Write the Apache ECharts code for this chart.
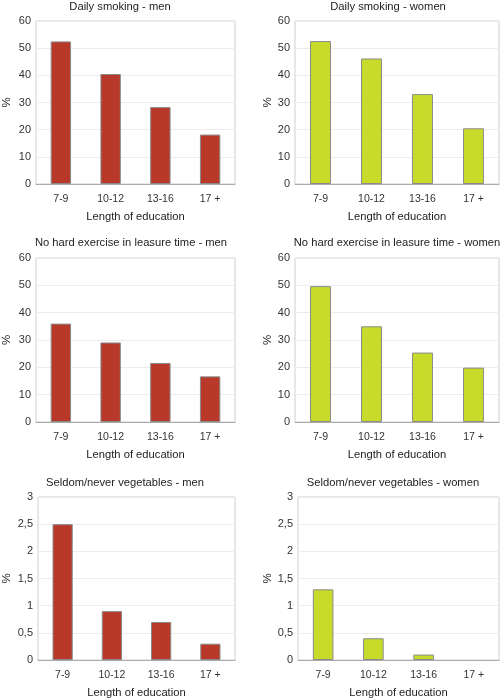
<!DOCTYPE html>
<html>
<head>
<meta charset="utf-8">
<script src="https://cdn.jsdelivr.net/npm/echarts@6/dist/echarts.min.js"></script>
<style>
  html, body { margin: 0; padding: 0; background: #fff; }
  #chart { width: 500px; height: 699px; }
</style>
</head>
<body>
<div id="chart"></div>
<script>
let categories = ['7-9', '10-12', '13-16', '17 +'];

let smokingMen = [52.5, 40.5, 28.3, 18.2];
let smokingWomen = [52.6, 46.2, 33.1, 20.5];
let exerciseMen = [36.0, 29.1, 21.6, 16.7];
let exerciseWomen = [49.7, 35.0, 25.4, 19.9];
let vegMen = [2.5, 0.9, 0.7, 0.3];
let vegWomen = [1.3, 0.4, 0.1, 0];

let titles = [
    'Daily smoking - men', 'Daily smoking - women',
    'No hard exercise in leasure time - men', 'No hard exercise in leasure time - women',
    'Seldom/never vegetables - men', 'Seldom/never vegetables - women'
];
let panelData = [smokingMen, smokingWomen, exerciseMen, exerciseWomen, vegMen, vegWomen];
let yMax = [60, 60, 60, 60, 3, 3];
let yStep = [10, 10, 10, 10, 0.5, 0.5];

const RED = '#b8392a';
const GREEN = '#c9db2a';

// panel layout: [left, top, width, height]
let boxes = [
    [30, 21, 205, 163], [295, 21, 204, 163],
    [30, 258, 205, 164], [295, 258, 204, 164],
    [32, 497, 203, 163], [298, 497, 201, 163]
];
let titleX = [120, 388, 131, 397, 125, 393];
let titleY = [1, 237, 477];

let chart = echarts.init(document.getElementById('chart'));

let option = {
    animation: false,
    textStyle: { fontFamily: 'Liberation Sans, Arial, sans-serif' },
    title: [],
    grid: [],
    xAxis: [],
    yAxis: [],
    series: []
};

for (let i = 0; i < 6; i++) {
    let b = boxes[i];
    option.title.push({
        text: titles[i],
        left: titleX[i],
        top: titleY[Math.floor(i / 2)],
        textAlign: 'center',
        padding: 0,
        textStyle: { fontSize: 11.2, fontWeight: 'normal', color: '#222' }
    });
    option.grid.push({
        left: b[0], top: b[1], width: b[2], height: b[3],
        show: true, borderColor: '#cfcfcf', borderWidth: 1
    });
    option.xAxis.push({
        type: 'category',
        gridIndex: i,
        data: categories,
        name: 'Length of education',
        nameLocation: 'middle',
        nameGap: 27,
        nameTextStyle: { fontSize: 11.2, color: '#222' },
        axisLine: { lineStyle: { color: '#aaa' } },
        axisTick: { show: false },
        axisLabel: { fontSize: 10.5, color: '#333', margin: 10 }
    });
    option.yAxis.push({
        type: 'value',
        gridIndex: i,
        min: 0,
        max: yMax[i],
        interval: yStep[i],
        name: '%',
        nameLocation: 'middle',
        nameGap: i % 2 === 0 ? (i === 4 ? 25 : 23) : (i === 5 ? 20 : 17),
        nameRotate: 90,
        nameTextStyle: { fontSize: 11.5, color: '#222' },
        axisLine: { show: false },
        axisTick: { show: false },
        axisLabel: {
            fontSize: 11, color: '#333', margin: 5,
            formatter: function (v) { return String(v).replace('.', ','); }
        },
        splitLine: { lineStyle: { color: '#ececec' } }
    });
    option.series.push({
        type: 'bar',
        xAxisIndex: i,
        yAxisIndex: i,
        // zero-height bars get no outline, as in the original
        data: panelData[i].map(function (v) {
            return v === 0 ? { value: v, itemStyle: { borderWidth: 0 } } : v;
        }),
        barWidth: '41%',
        itemStyle: {
            color: i % 2 === 0 ? RED : GREEN,
            borderColor: '#8a8a8a',
            borderWidth: 1
        }
    });
}

chart.setOption(option);
</script>
</body>
</html>
